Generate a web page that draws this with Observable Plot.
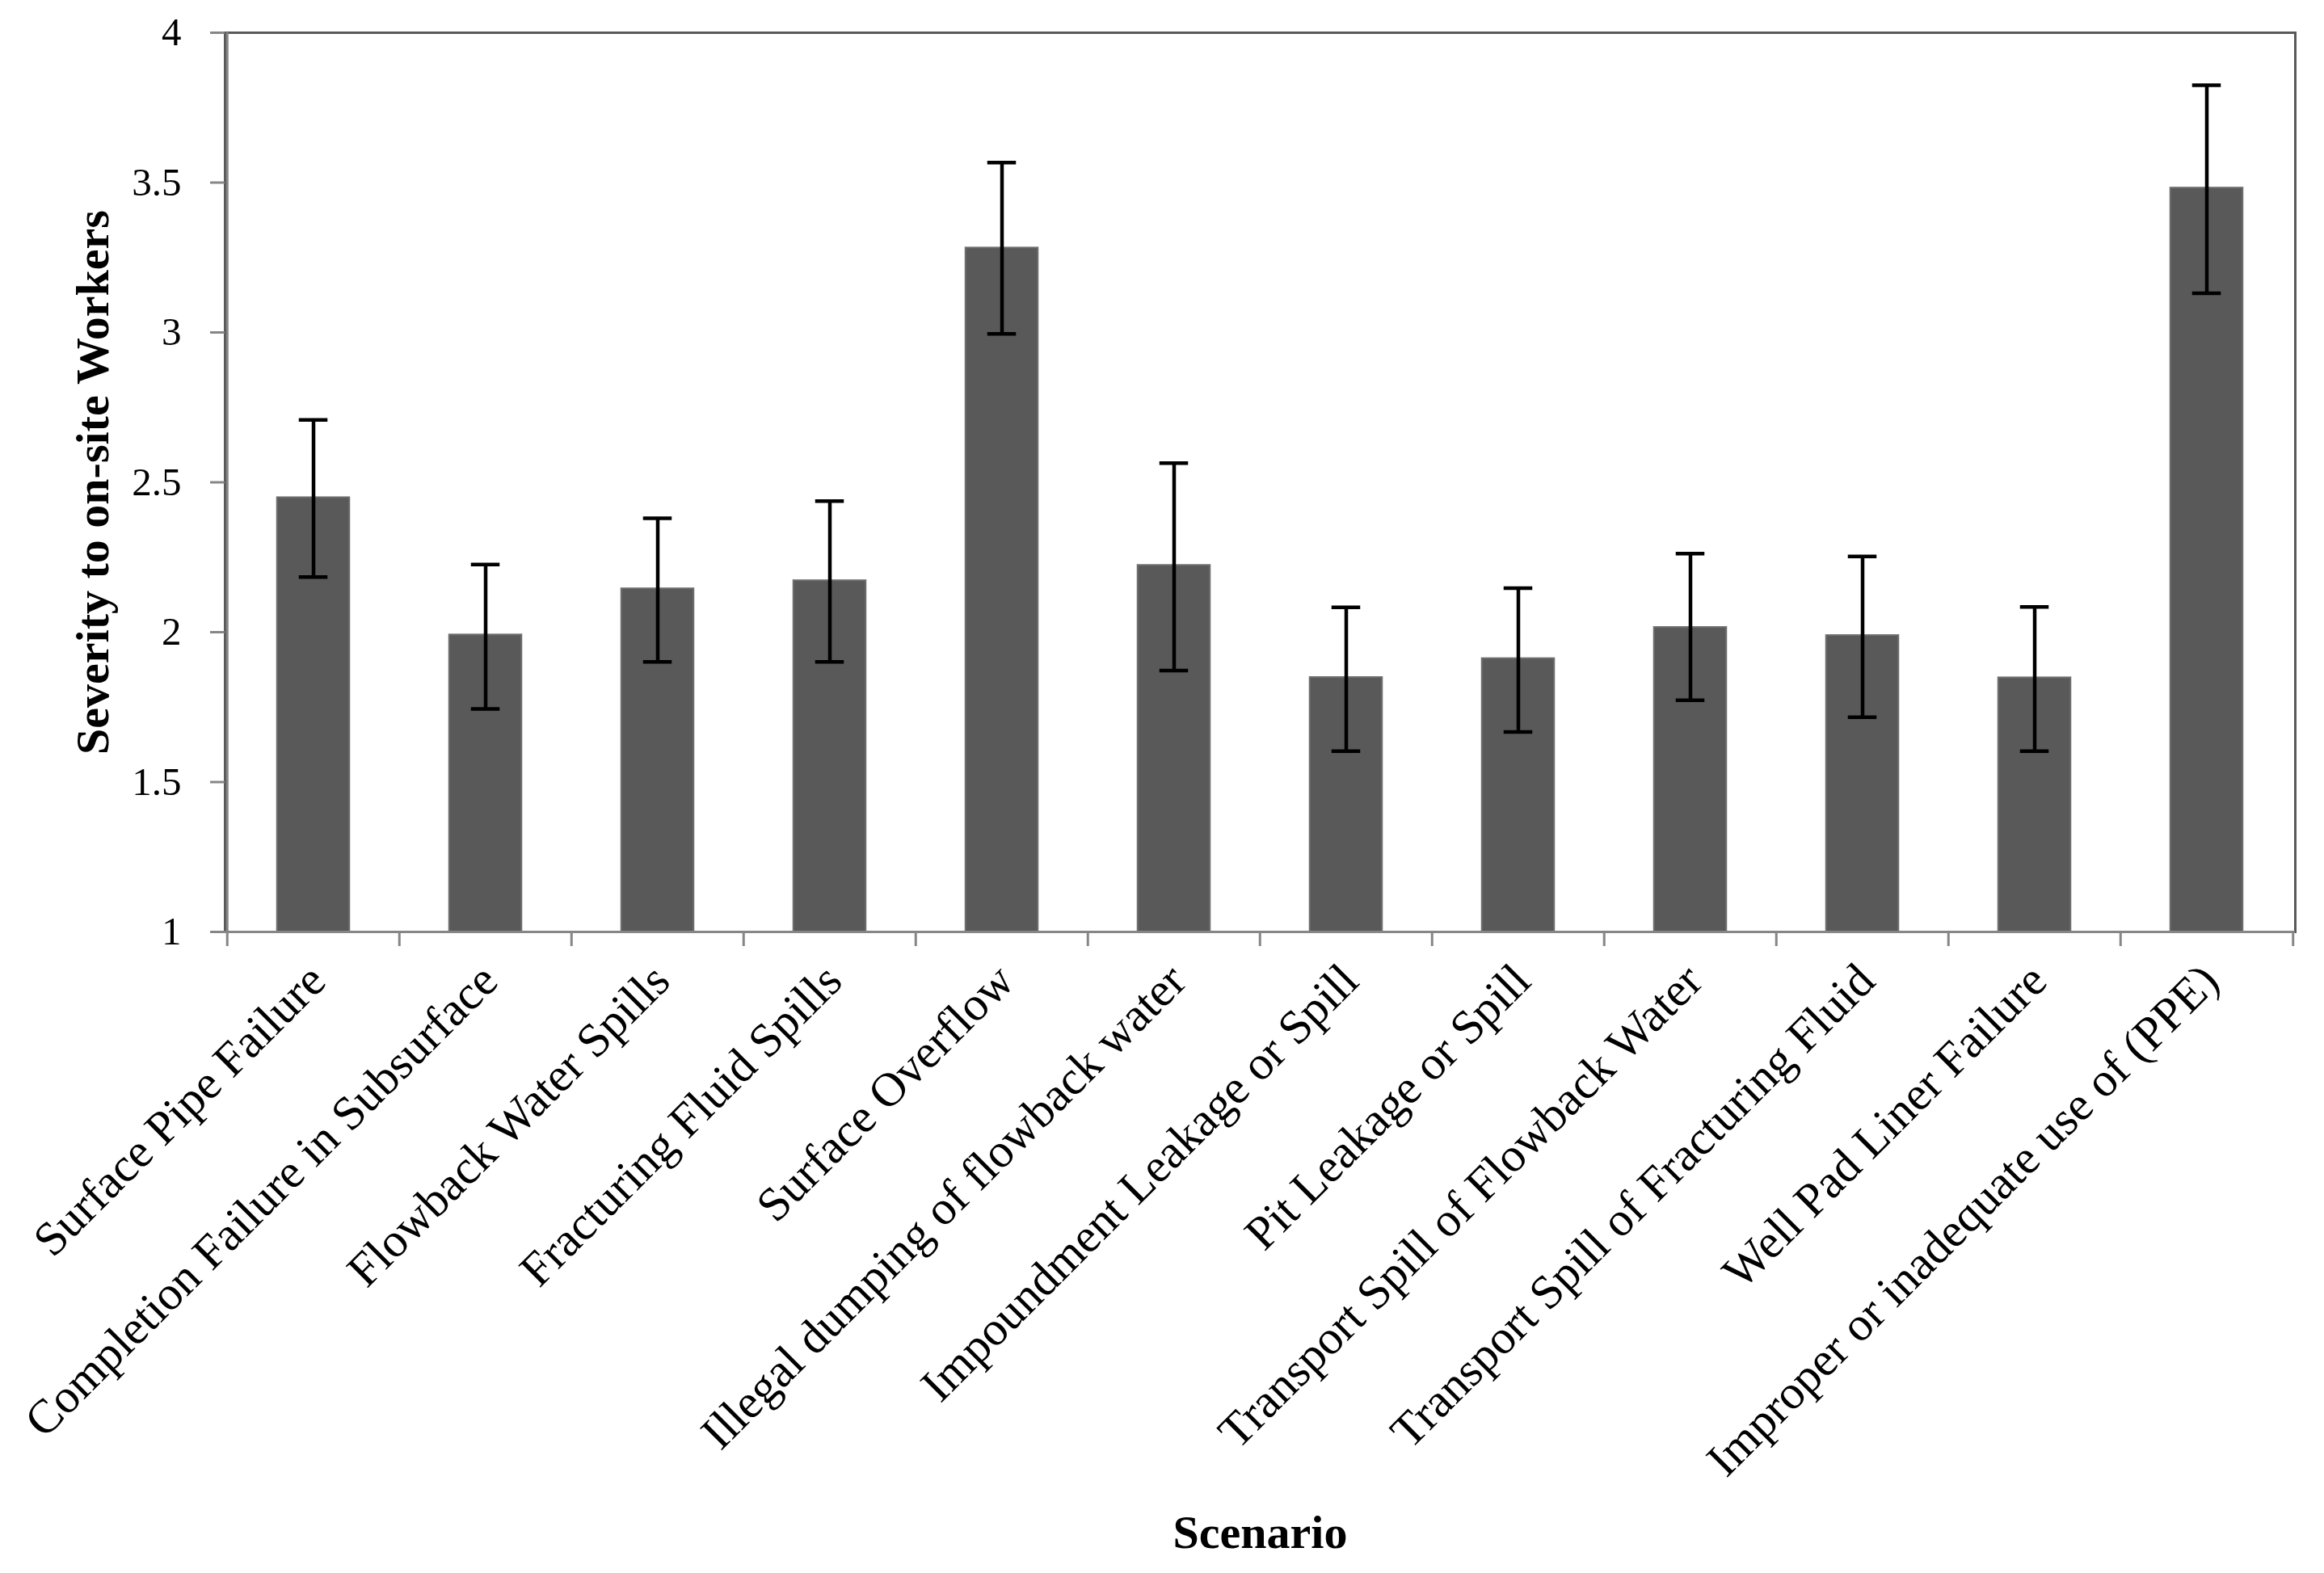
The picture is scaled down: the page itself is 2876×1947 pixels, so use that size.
<!DOCTYPE html>
<html>
<head>
<meta charset="utf-8">
<script src="https://cdn.jsdelivr.net/npm/d3@7"></script>
<script src="https://cdn.jsdelivr.net/npm/@observablehq/plot@0.6"></script>
<style>
  html, body { margin: 0; padding: 0; background: #ffffff; }
  svg { display: block; }
</style>
</head>
<body>
<div id="chart"></div>
<script>
const categories = [
  "Surface Pipe Failure",
  "Completion Failure in Subsurface",
  "Flowback Water Spills",
  "Fracturing Fluid Spills",
  "Surface Overflow",
  "Illegal dumping of flowback water",
  "Impoundment Leakage or Spill",
  "Pit Leakage or Spill",
  "Transport Spill of Flowback Water",
  "Transport Spill of Fracturing Fluid",
  "Well Pad Liner Failure",
  "Improper or inadequate use of (PPE)"
];
const means = [2.449, 1.991, 2.145, 2.172, 3.282, 2.223, 1.849, 1.912, 2.016, 1.989, 1.848, 3.482];
const upper = [2.708, 2.226, 2.380, 2.437, 3.567, 2.564, 2.083, 2.147, 2.262, 2.253, 2.084, 3.825];
const lower = [2.184, 1.744, 1.901, 1.901, 2.995, 1.872, 1.603, 1.667, 1.773, 1.716, 1.603, 3.131];
const yTicks = [1, 1.5, 2, 2.5, 3, 3.5, 4];
const yDomain = [1, 4];
const yTitle = "Severity to on-site Workers";
const xTitle = "Scenario";

const data = categories.map((c, i) => ({cat: c, mean: means[i], lo: lower[i], hi: upper[i]}));

const W = 2876, H = 1947;
const mL = 278, mR = 36, mT = 40, mB = 794;
const band = (W - mL - mR) / categories.length;
const hb = band / 2;
const barW = 90;
const capW = 36;
const serif = "'Liberation Serif', 'Times New Roman', serif";
const axisGray = "#868686";

const chart = Plot.plot({
  width: W,
  height: H,
  marginLeft: mL,
  marginRight: mR,
  marginTop: mT,
  marginBottom: mB,
  style: {fontFamily: serif, fontSize: "49px", color: "#000", background: "#fff"},
  x: {type: "band", domain: categories, padding: 0, axis: null},
  y: {domain: yDomain, axis: null},
  marks: [
    Plot.frame({stroke: "#595959", strokeWidth: 3}),
    Plot.barY(data, {
      x: "cat", y1: () => yDomain[0], y2: "mean",
      fill: "#595959", stroke: "#6e6e6e", strokeWidth: 2,
      insetLeft: (band - barW) / 2, insetRight: (band - barW) / 2
    }),
    Plot.ruleX(data, {x: "cat", y1: "lo", y2: "hi", stroke: "#000", strokeWidth: 4.5}),
    Plot.tickY(data, {x: "cat", y: "hi", stroke: "#000", strokeWidth: 4.5, insetLeft: (band - capW) / 2, insetRight: (band - capW) / 2}),
    Plot.tickY(data, {x: "cat", y: "lo", stroke: "#000", strokeWidth: 4.5, insetLeft: (band - capW) / 2, insetRight: (band - capW) / 2}),
    // left axis line and bottom axis line
    Plot.ruleX([categories[0]], {x: d => d, dx: -hb, stroke: axisGray, strokeWidth: 3}),
    Plot.ruleY([yDomain[0]], {stroke: axisGray, strokeWidth: 3}),
    // y axis ticks and labels
    Plot.axisY({
      ticks: yTicks, tickSize: 18, tickPadding: 36, stroke: axisGray, strokeWidth: 3,
      fontSize: 49, fontFamily: serif, fill: "#000", label: null, tickFormat: d => String(d)
    }),
    // x boundary ticks
    Plot.axisX({
      ticks: categories, tickSize: 18, dx: -hb, stroke: axisGray, strokeWidth: 3,
      tickFormat: () => "", label: null
    }),
    Plot.axisX({
      ticks: [categories[categories.length - 1]], tickSize: 18, dx: hb, stroke: axisGray, strokeWidth: 3,
      tickFormat: () => "", label: null
    }),
    // rotated category labels
    Plot.text(categories, {
      x: d => d, frameAnchor: "bottom", rotate: -45, textAnchor: "end",
      dx: 18, dy: 64, fontSize: 59, fontFamily: serif, fill: "#000"
    }),
    // axis titles
    Plot.text([yTitle], {
      y: () => (yDomain[0] + yDomain[1]) / 2, frameAnchor: "left", dx: -163, rotate: -90,
      textAnchor: "middle", lineAnchor: "middle", fontWeight: "bold",
      fontSize: 58, fontFamily: serif, fill: "#000"
    }),
    Plot.text([xTitle], {
      frameAnchor: "bottom", dy: 744, textAnchor: "middle", lineAnchor: "middle", fontWeight: "bold",
      fontSize: 58, fontFamily: serif, fill: "#000"
    })
  ]
});
document.getElementById("chart").appendChild(chart);
</script>
</body>
</html>
